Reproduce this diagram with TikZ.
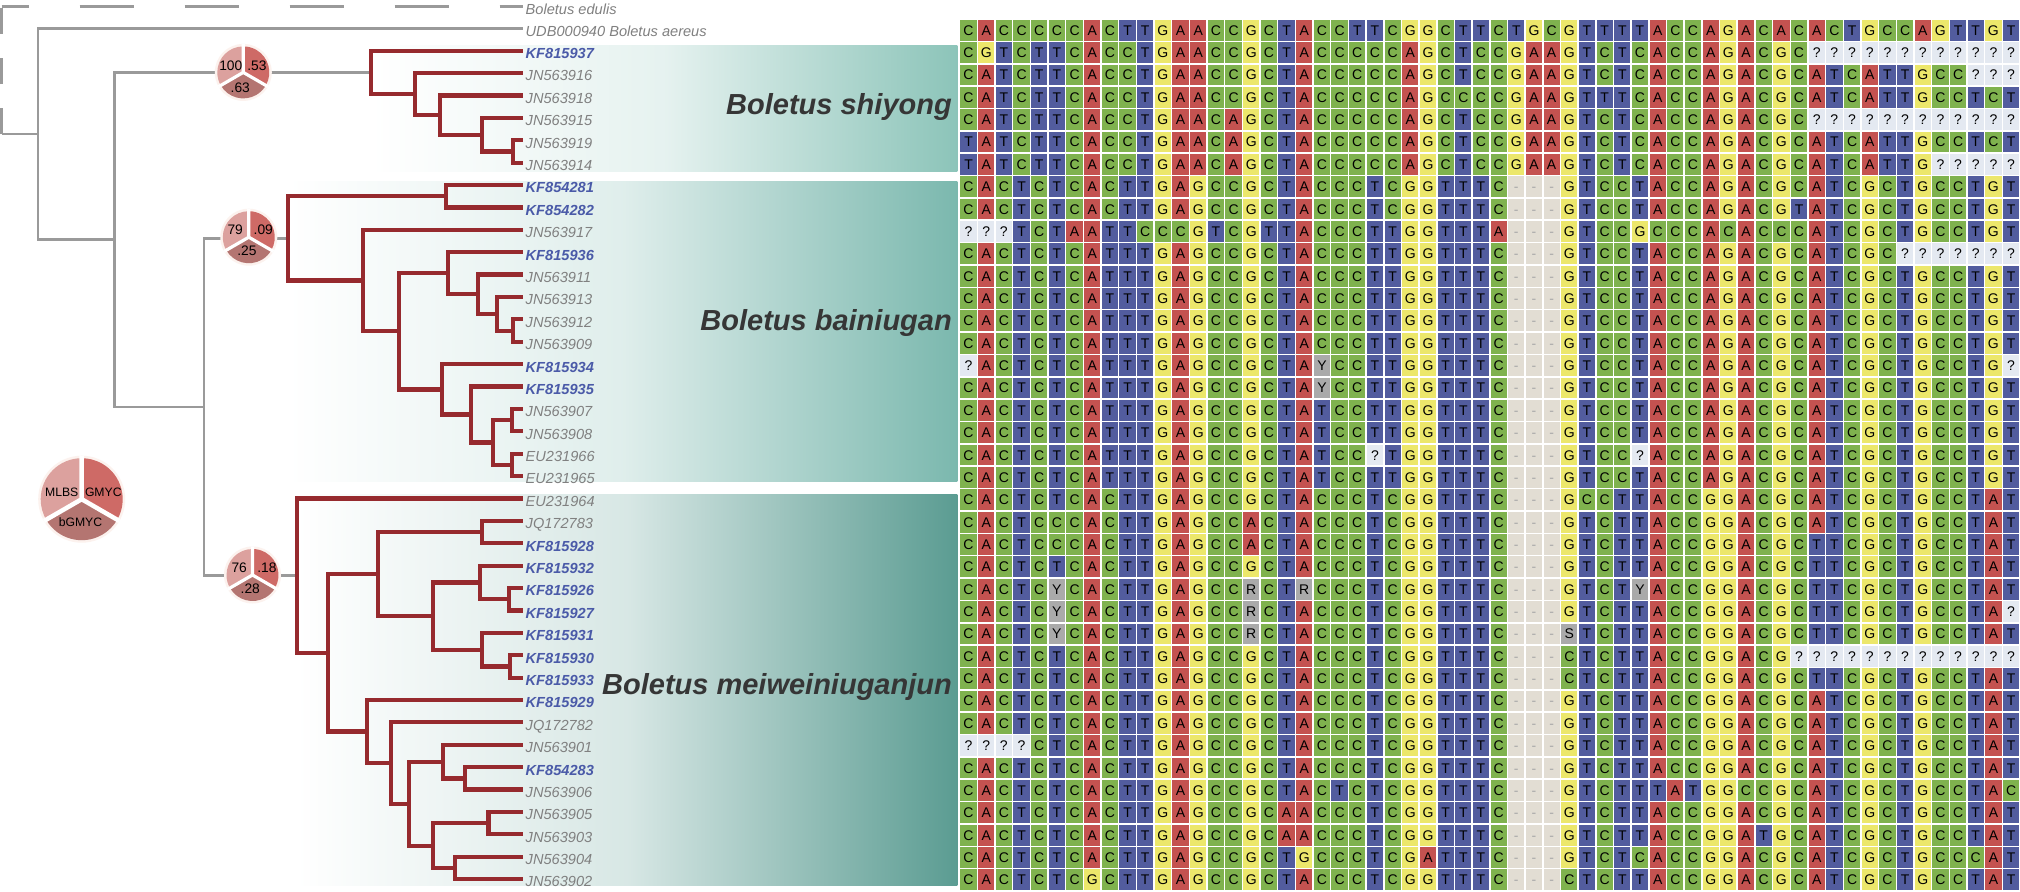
\documentclass[tikz,border=0pt]{standalone}
\usepackage{fontspec}
\setmainfont{Liberation Sans}
\definecolor{cA}{HTML}{C45250}
\definecolor{cC}{HTML}{7FB24E}
\definecolor{cG}{HTML}{ECE76B}
\definecolor{cT}{HTML}{525C9E}
\definecolor{cQ}{HTML}{E4E9F1}
\definecolor{cD}{HTML}{E2DDD3}
\definecolor{cN}{HTML}{AAAAAA}
\definecolor{dashgray}{HTML}{A8A8A8}
\definecolor{labgray}{HTML}{808080}
\definecolor{kfblue}{HTML}{4A5AA8}
\definecolor{cladegray}{HTML}{363636}
\definecolor{treegray}{HTML}{9A9A9A}
\definecolor{treered}{HTML}{962A2E}
\definecolor{pieL}{HTML}{DCA19E}
\definecolor{pieR}{HTML}{CE6A66}
\definecolor{pieB}{HTML}{B47571}
\definecolor{pieHalo}{HTML}{FCF2EE}
\definecolor{tealS}{HTML}{8CC4B9}
\definecolor{tealB}{HTML}{7BB8AE}
\definecolor{tealM}{HTML}{5B9C92}

\tikzset{
  lab/.style={anchor=west, inner sep=0pt, text=labgray, font=\fontsize{14.6}{16}\selectfont\itshape, text height=10.5pt, text depth=0pt},
  kf/.style={lab, text=kfblue, font=\fontsize{14.6}{16}\selectfont\bfseries\itshape},
  clade/.style={anchor=base east, inner sep=0pt, text=cladegray, font=\fontsize{29}{32}\selectfont\bfseries\itshape},
  pienum/.style={inner sep=0pt, font=\fontsize{13.8}{15}\selectfont, text=black, text height=9.9pt, text depth=0pt},
  legtxt/.style={inner sep=0pt, font=\fontsize{12.2}{14}\selectfont, text=black, text height=8.8pt, text depth=0pt},
  cell/.style={inner sep=0pt, font=\fontsize{14}{14}\selectfont, text height=10pt, text depth=0pt},
  gline/.style={draw=treegray, line width=2.8pt},
  rline/.style={draw=treered, line width=4.2pt},
}

\newcount\colcnt
\def\drawcell#1{%
  \def\cc{cT}\def\tc{black}%
  \if A#1\def\cc{cA}\fi
  \if C#1\def\cc{cC}\fi
  \if G#1\def\cc{cG}\fi
  \if ?#1\def\cc{cQ}\fi
  \if -#1\def\cc{cD}\def\tc{dashgray}\fi
  \if Y#1\def\cc{cN}\fi
  \if R#1\def\cc{cN}\fi
  \if S#1\def\cc{cN}\fi
  \fill[fill=\cc] (\the\colcnt+0.04,\rowidx+0.035) rectangle (\the\colcnt+0.96,\rowidx+0.965);
  \node[cell,text=\tc] (s\rowidx-\the\colcnt) at (\the\colcnt+0.5,\rowidx+0.5) {#1};
  \global\advance\colcnt by 1\relax}
\def\parseseq#1{\ifx\relax#1\else\drawcell{#1}\expandafter\parseseq\fi}
\newcommand\seqrow[2]{\def\rowidx{#1}\global\colcnt=0\relax\parseseq#2\relax}

\newcommand\pieat[4]{%
  \fill[pieHalo] (#1) circle[radius=#3];
  \begin{scope}[shift={(#1)},yscale=-1]
    \fill[pieL] (0,0) -- (90:#2) arc[start angle=90,end angle=210,radius=#2] -- cycle;
    \fill[pieB] (0,0) -- (210:#2) arc[start angle=210,end angle=330,radius=#2] -- cycle;
    \fill[pieR] (0,0) -- (-30:#2) arc[start angle=-30,end angle=90,radius=#2] -- cycle;
    \draw[white,line width=#4] (0,0) -- (90:#3) (0,0) -- (210:#3) (0,0) -- (330:#3);
  \end{scope}}

\begin{document}
\begin{tikzpicture}[x=1pt,y=-1pt]
\useasboundingbox (0,0) rectangle (2020,891);
\fill[white] (0,0) rectangle (2020,891);

% clade boxes
\shade[left color=white, right color=tealS, middle color=tealS!22!white] (371,46) rectangle (957.3,171.7);
\shade[left color=white, right color=tealB, middle color=tealB!24!white] (288,181) rectangle (957.3,481.7);
\shade[left color=white, right color=tealM, middle color=tealM!24!white] (296.7,494) rectangle (957.3,885.7);

% tips
\foreach \r in {0,...,38} \coordinate (t\r) at (523,{28.3+22.39*\r});
\coordinate (te) at (523,6.5);
\coordinate (rc) at (1.7,6.5);
\coordinate (root) at (1.7,134.0);
\coordinate (nR1) at (38,134.0);
\coordinate (nR2) at (114.3,239.7);
\coordinate (nR3) at (204,407.0);
\coordinate (nA) at (371,72.4);
\coordinate (nB) at (415,94.1);
\coordinate (nC) at (440,115.1);
\coordinate (nD) at (481.7,134.7);
\coordinate (nE) at (513,151.5);
\coordinate (nP) at (288,238.4);
\coordinate (nP1) at (445.7,196.2);
\coordinate (nP2) at (362.7,280.55);
\coordinate (nP3) at (399.3,331.3);
\coordinate (nP4) at (448.3,273.2);
\coordinate (nP5) at (478.3,294.2);
\coordinate (nP6) at (497.3,313.8);
\coordinate (nP7) at (513.3,330.6);
\coordinate (nP8) at (441.7,389.4);
\coordinate (nP9) at (471,414.55);
\coordinate (nP10) at (492.7,442.5);
\coordinate (nP11) at (511.7,420.1);
\coordinate (nP12) at (511.7,464.9);
\coordinate (nM) at (296.7,575.65);
\coordinate (nM1) at (328.3,652.8);
\coordinate (nM2) at (377.7,574.1);
\coordinate (nM3) at (481.7,532.1);
\coordinate (nM4) at (432.7,616.1);
\coordinate (nM5) at (480,582.5);
\coordinate (nM6) at (509.3,599.3);
\coordinate (nM7) at (481.7,649.7);
\coordinate (nM8) at (510,666.45);
\coordinate (nM9) at (366.7,731.5);
\coordinate (nM10) at (390.7,763.0);
\coordinate (nM11) at (409.3,803.6);
\coordinate (nM12) at (442.7,761.6);
\coordinate (nM13) at (465,778.4);
\coordinate (nM14) at (432.7,845.6);
\coordinate (nM15) at (488.5,823.2);
\coordinate (nM16) at (455,868.0);
\coordinate (pie1) at (243.3,72.4);
\coordinate (pie2) at (248.8,237.2);
\coordinate (pie3) at (252.5,575.0);
\coordinate (leg) at (81.7,499.2);

% tree: gray part
\draw[gline, dash pattern=on 26pt off 24pt] (root) -- (rc);
\draw[gline, dash pattern=on 54pt off 51pt, dash phase=27pt] (rc) -- (te);
\draw[gline] (root) -- (nR1);
\foreach \p/\c in {nR1/t0,nR1/nR2,nR2/nA,nR2/nR3,nR3/nP,nR3/nM}
  \draw[gline] (\p) |- (\c);

% tree: red part
\foreach \p/\c in {nA/t1,nA/nB,nB/t2,nB/nC,nC/t3,nC/nD,nD/t4,nD/nE,nE/t5,nE/t6,
  nP/nP1,nP/nP2,nP1/t7,nP1/t8,nP2/t9,nP2/nP3,nP3/nP4,nP3/nP8,nP4/t10,nP4/nP5,
  nP5/t11,nP5/nP6,nP6/t12,nP6/nP7,nP7/t13,nP7/t14,nP8/t15,nP8/nP9,nP9/t16,nP9/nP10,
  nP10/nP11,nP10/nP12,nP11/t17,nP11/t18,nP12/t19,nP12/t20,
  nM/t21,nM/nM1,nM1/nM2,nM1/nM9,nM2/nM3,nM2/nM4,nM3/t22,nM3/t23,nM4/nM5,nM4/nM7,
  nM5/t24,nM5/nM6,nM6/t25,nM6/t26,nM7/t27,nM7/nM8,nM8/t28,nM8/t29,nM9/t30,nM9/nM10,
  nM10/t31,nM10/nM11,nM11/nM12,nM11/nM14,nM12/t32,nM12/nM13,nM13/t33,nM13/t34,
  nM14/nM15,nM14/nM16,nM15/t35,nM15/t36,nM16/t37,nM16/t38}
  \draw[rline] (\p) |- (\c);

% pies
\pieat{pie1}{26}{28.5}{3.2}
\pieat{pie2}{26}{28.5}{3.2}
\pieat{pie3}{26}{28.5}{3.2}
\pieat{leg}{41}{43.5}{4.5}
\node[pienum] (p1a) at (230.8,65.5) {100};
\node[pienum] (p1b) at (257,65.5) {.53};
\node[pienum] (p1c) at (240.3,87.2) {.63};
\node[pienum] (p2a) at (235.2,229.8) {79};
\node[pienum] (p2b) at (263.3,229.8) {.09};
\node[pienum] (p2c) at (247,250.2) {.25};
\node[pienum] (p3a) at (239.2,567.8) {76};
\node[pienum] (p3b) at (267,567.8) {.18};
\node[pienum] (p3c) at (250.3,588.7) {.28};
\node[legtxt] (lgA) at (61.7,491.7) {MLBS};
\node[legtxt] (lgB) at (103.3,491.7) {GMYC};
\node[legtxt] (lgC) at (80.5,522.5) {bGMYC};

% labels
\node[lab] (le) at (525.5,9.1) {Boletus edulis};
\foreach \r/\t in {0/{UDB000940 Boletus aereus},2/JN563916,3/JN563918,4/JN563915,5/JN563919,6/JN563914,9/JN563917,11/JN563911,12/JN563913,13/JN563912,14/JN563909,17/JN563907,18/JN563908,19/EU231966,20/EU231965,21/EU231964,22/JQ172783,31/JQ172782,32/JN563901,34/JN563906,35/JN563905,36/JN563903,37/JN563904,38/JN563902}
  \node[lab] (l\r) at (525.5,{30.9+22.39*\r}) {\t};
\foreach \r/\t in {1/KF815937,7/KF854281,8/KF854282,10/KF815936,15/KF815934,16/KF815935,23/KF815928,24/KF815932,25/KF815926,26/KF815927,27/KF815931,28/KF815930,29/KF815933,30/KF815929,33/KF854283}
  \node[kf] (l\r) at (525.5,{30.9+22.39*\r}) {\t};

% clade titles
\node[clade] (cs) at (952,114.5) {Boletus shiyong};
\node[clade] (cb) at (952,330) {Boletus bainiugan};
\node[clade] (cm) at (952,694) {Boletus meiweiniuganjun};

% alignment
\begin{scope}[xshift=959.7pt, yshift=-19pt, x=17.67pt, y=-22.36pt]
\seqrow{0}{CACCCCCACTTGAACCGCTACCTTCGGCTTCTGCGTTTTACCAGACACACTGCCAGTTGT}
\seqrow{1}{CGTCTTCACCTGAACCGCTACCCCCAGCTCCGAAGTCTCACCAGACGC????????????}
\seqrow{2}{CATCTTCACCTGAACCGCTACCCCCAGCTCCGAAGTCTCACCAGACGCATCATTGCC???}
\seqrow{3}{CATCTTCACCTGAACCGCTACCCCCAGCCCCGAAGTTTCACCAGACGCATCATTGCCTCT}
\seqrow{4}{CATCTTCACCTGAACAGCTACCCCCAGCTCCGAAGTCTCACCAGACGC????????????}
\seqrow{5}{TATCTTCACCTGAACAGCTACCCCCAGCTCCGAAGTCTCACCAGACGCATCATTGCCTCT}
\seqrow{6}{TATCTTCACCTGAACAGCTACCCCCAGCTCCGAAGTCTCACCAGACGCATCATTG?????}
\seqrow{7}{CACTCTCACTTGAGCCGCTACCCTCGGTTTC---GTCCTACCAGACGCATCGCTGCCTGT}
\seqrow{8}{CACTCTCACTTGAGCCGCTACCCTCGGTTTC---GTCCTACCAGACGTATCGCTGCCTGT}
\seqrow{9}{???TCTAATTCCCGTCGTTACCCTTGGTTTA---GTCCGCCCACACCCATCGCTGCCTGT}
\seqrow{10}{CACTCTCATTTGAGCCGCTACCCTTGGTTTC---GTCCTACCAGACGCATCGC???????}
\seqrow{11}{CACTCTCATTTGAGCCGCTACCCTTGGTTTC---GTCCTACCAGACGCATCGCTGCCTGT}
\seqrow{12}{CACTCTCATTTGAGCCGCTACCCTTGGTTTC---GTCCTACCAGACGCATCGCTGCCTGT}
\seqrow{13}{CACTCTCATTTGAGCCGCTACCCTTGGTTTC---GTCCTACCAGACGCATCGCTGCCTGT}
\seqrow{14}{CACTCTCATTTGAGCCGCTACCCTTGGTTTC---GTCCTACCAGACGCATCGCTGCCTGT}
\seqrow{15}{?ACTCTCATTTGAGCCGCTAYCCTTGGTTTC---GTCCTACCAGACGCATCGCTGCCTG?}
\seqrow{16}{CACTCTCATTTGAGCCGCTAYCCTTGGTTTC---GTCCTACCAGACGCATCGCTGCCTGT}
\seqrow{17}{CACTCTCATTTGAGCCGCTATCCTTGGTTTC---GTCCTACCAGACGCATCGCTGCCTGT}
\seqrow{18}{CACTCTCATTTGAGCCGCTATCCTTGGTTTC---GTCCTACCAGACGCATCGCTGCCTGT}
\seqrow{19}{CACTCTCATTTGAGCCGCTATCC?TGGTTTC---GTCC?ACCAGACGCATCGCTGCCTGT}
\seqrow{20}{CACTCTCATTTGAGCCGCTATCCTTGGTTTC---GTCCTACCAGACGCATCGCTGCCTGT}
\seqrow{21}{CACTCTCACTTGAGCCGCTACCCTCGGTTTC---GCCTTACCGGACGCATCGCTGCCTAT}
\seqrow{22}{CACTCCCACTTGAGCCACTACCCTCGGTTTC---GTCTTACCGGACGCATCGCTGCCTAT}
\seqrow{23}{CACTCCCACTTGAGCCACTACCCTCGGTTTC---GTCTTACCGGACGCTTCGCTGCCTAT}
\seqrow{24}{CACTCTCACTTGAGCCGCTACCCTCGGTTTC---GTCTTACCGGACGCTTCGCTGCCTAT}
\seqrow{25}{CACTCYCACTTGAGCCRCTRCCCTCGGTTTC---GTCTYACCGGACGCTTCGCTGCCTAT}
\seqrow{26}{CACTCYCACTTGAGCCRCTACCCTCGGTTTC---GTCTTACCGGACGCTTCGCTGCCTA?}
\seqrow{27}{CACTCYCACTTGAGCCRCTACCCTCGGTTTC---STCTTACCGGACGCTTCGCTGCCTAT}
\seqrow{28}{CACTCTCACTTGAGCCGCTACCCTCGGTTTC---CTCTTACCGGACG?????????????}
\seqrow{29}{CACTCTCACTTGAGCCGCTACCCTCGGTTTC---CTCTTACCGGACGCTTCGCTGCCTAT}
\seqrow{30}{CACTCTCACTTGAGCCGCTACCCTCGGTTTC---GTCTTACCGGACGCATCGCTGCCTAT}
\seqrow{31}{CACTCTCACTTGAGCCGCTACCCTCGGTTTC---GTCTTACCGGACGCATCGCTGCCTAT}
\seqrow{32}{????CTCACTTGAGCCGCTACCCTCGGTTTC---GTCTTACCGGACGCATCGCTGCCTAT}
\seqrow{33}{CACTCTCACTTGAGCCGCTACCCTCGGTTTC---GTCTTACCGGACGCATCGCTGCCTAT}
\seqrow{34}{CACTCTCACTTGAGCCGCTACTCTCGGTTTC---GTCTTTATGGCCGCATCGCTGCCTAC}
\seqrow{35}{CACTCTCACTTGAGCCGCAACCCTCGGTTTC---GTCTTACCGGACGCATCGCTGCCTAT}
\seqrow{36}{CACTCTCACTTGAGCCGCAACCCTCGGTTTC---GTCTTACCGGATGCATCGCTGCCTAT}
\seqrow{37}{CACTCTCACTTGAGCCGCTGCCCTCGATTTC---GTCTCACCGGACGCATCGCTGCCCAT}
\seqrow{38}{CACTCTCGCTTGAGCCGCTACCCTCGGTTTC---CTCTTACCGGACGCATCGCTGCCTAT}
\end{scope}
\end{tikzpicture}
\end{document}
